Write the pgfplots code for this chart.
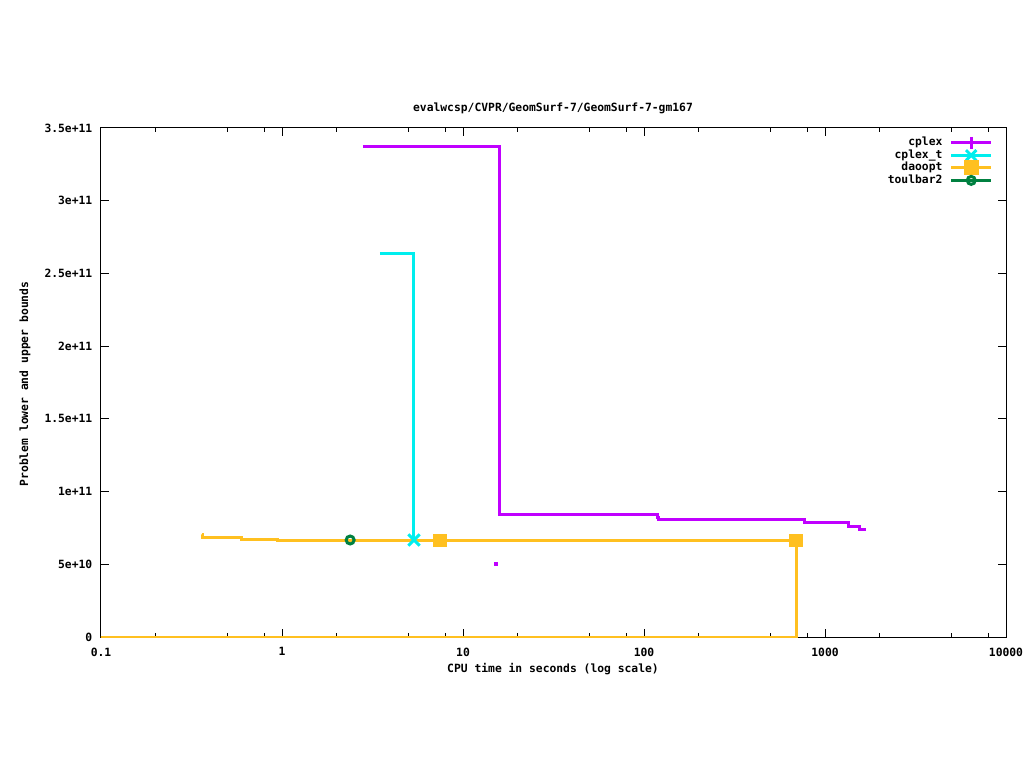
\documentclass[border=0pt]{standalone}
\usepackage{fontspec}
\setmainfont{DejaVu Sans Mono}
\usepackage{pgfplots}
\pgfplotsset{compat=1.18}
\definecolor{cplexc}{HTML}{C000FF}
\definecolor{cplextc}{HTML}{00EEEE}
\definecolor{daooptc}{HTML}{FFC020}
\definecolor{toulc}{HTML}{008040}
\newcommand{\gfont}{\fontsize{8.5}{10}\selectfont\bfseries}
\begin{document}
\begin{tikzpicture}[x=1pt,y=1pt]
\useasboundingbox (0,0) rectangle (768,576);
\begin{axis}[
  at={(75.75pt,98.25pt)}, anchor=south west,
  scale only axis, width=678.75pt, height=381.75pt,
  xmode=log, xmin=0.1, xmax=10000, ymin=0, ymax=3.5e11,
  xtick={0.1,1,10,100,1000,10000},
  xticklabels={0.1,1,10,100,1000,10000},
  minor xtick={0.2,0.5,0.8,2,5,8,20,50,80,200,500,800,2000,5000,8000},
  ytick={0,5e10,1e11,1.5e11,2e11,2.5e11,3e11,3.5e11},
  yticklabels={0,5e+10,1e+11,1.5e+11,2e+11,2.5e+11,3e+11,3.5e+11},
  scaled y ticks=false,
  tick align=inside, major tick length=6pt, minor tick length=3pt,
  tick style={black, line width=0.75pt},
  axis line style={line width=0.75pt},
  ticklabel style={font=\gfont},
  yticklabel style={xshift=-3pt},
  xticklabel style={yshift=-4.5pt},
  legend style={draw=none, fill=none, at={(1,1)}, anchor=north east,
    xshift=-9.75pt, yshift=-6.2pt, inner sep=0pt, font=\gfont,
    column sep=5.5pt, row sep=0pt,
    nodes={inner sep=0pt, text height=7pt, text depth=2.4pt}},
  legend cell align=right, legend plot pos=right,
  legend image code/.code={\draw[mark repeat=2,mark phase=2] plot coordinates {(0pt,0pt) (15pt,0pt) (30pt,0pt)};},
]
% daoopt lower bound
\addplot[const plot, daooptc, line width=2.25pt, forget plot] coordinates {
  (0.05,0) (692,6.65e10)};
% daoopt upper bound
\addplot[const plot, daooptc, line width=2.25pt, forget plot] coordinates {
  (0.361,7.06e10) (0.365,6.81e10) (0.60,6.72e10) (0.95,6.65e10) (692,6.65e10)};
\addplot[only marks, daooptc, mark=square*, mark size=4.75pt, forget plot] coordinates {
  (7.46,6.65e10) (692,6.65e10)};
% cplex
\addplot[const plot, cplexc, line width=2.25pt, forget plot] coordinates {
  (2.8,3.37e11) (16.0,8.39e10) (119,8.2e10) (121,8.09e10) (766,7.89e10) (1340,7.63e10) (1560,7.41e10) (1694,7.41e10)};
\addplot[only marks, cplexc, mark=square*, mark size=1pt, forget plot] coordinates {(15.2,5.02e10)};
% cplex_t
\addplot[const plot, cplextc, line width=2.25pt, forget plot] coordinates {
  (3.47,2.64e11) (5.36,6.67e10)};
\addplot[only marks, cplextc, mark=x, mark size=6pt, mark options={line width=2.2pt}, forget plot] coordinates {(5.36,6.67e10)};
% toulbar2
\addplot[only marks, toulc, mark=o, mark size=3pt, line width=2.25pt, forget plot] coordinates {(2.38,6.67e10)};
% legend
\addlegendimage{cplexc, line width=2.25pt, mark=+, mark size=4.5pt, mark options={line width=2.25pt}}
\addlegendentry{cplex}
\addlegendimage{cplextc, line width=2.25pt, mark=x, mark size=5.5pt, mark options={line width=2.2pt}}
\addlegendentry{cplex\_t}
\addlegendimage{daooptc, line width=2.25pt, mark=square*, mark size=4.5pt}
\addlegendentry{daoopt}
\addlegendimage{toulc, line width=2.25pt, mark=o, mark size=3pt}
\addlegendentry{toulbar2}
\end{axis}
\node[font=\gfont] at (414.75,495) {evalwcsp/CVPR/GeomSurf-7/GeomSurf-7-gm167};
\node[font=\gfont] at (414.75,74.25) {CPU time in seconds (log scale)};
\node[font=\gfont, rotate=90] at (18.75,288) {Problem lower and upper bounds};
\end{tikzpicture}
\end{document}
